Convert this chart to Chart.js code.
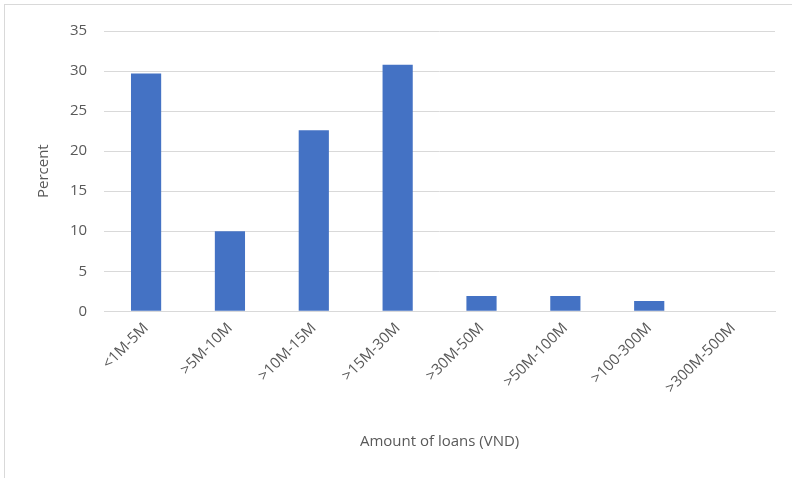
<!DOCTYPE html>
<html>
<head>
<meta charset="utf-8">
<script src="https://cdn.jsdelivr.net/npm/chart.js@4/dist/chart.umd.min.js"></script>
<style>
  html, body { margin: 0; padding: 0; background: #fff; }
  #wrap {
    position: absolute; left: 4px; top: 4px; width: 788px; height: 474px;
    border-top: 1px solid #d9d9d9; border-left: 1px solid #d9d9d9;
  }
  canvas { display: block; }
</style>
</head>
<body>
<div id="wrap"><canvas id="myChart" width="787" height="473"></canvas></div>
<script>
// loan size buckets and share of borrowers (%)
const categories = ['<1M-5M', '>5M-10M', '>10M-15M', '>15M-30M', '>30M-50M', '>50M-100M', '>100-300M', '>300M-500M'];
const percentValues = [29.7, 10.0, 22.6, 30.8, 1.9, 1.9, 1.3, 0];
const yTicks = [0, 5, 10, 15, 20, 25, 30, 35];

document.addEventListener("DOMContentLoaded", function () {
  if (typeof Chart === 'undefined') {
    console.error('Chart.js is not loaded.');
    return;
  }
  const ctx = document.getElementById('myChart').getContext('2d');
  const fontFamily = "'Open Sans', 'Liberation Sans', sans-serif";

  new Chart(ctx, {
    type: 'bar',
    data: {
      labels: categories,
      datasets: [{
        label: 'Percent',
        data: percentValues,
        backgroundColor: '#4472C4',
        borderWidth: 0,
        barPercentage: 0.36,
        categoryPercentage: 1
      }]
    },
    options: {
      responsive: false,
      animation: false,
      layout: { padding: { left: 26, right: 17, top: 10, bottom: 23 } },
      plugins: {
        legend: { display: false },
        tooltip: { enabled: false }
      },
      scales: {
        x: {
          grid: { display: false, drawTicks: false },
          border: { color: '#d9d9d9', width: 1 },
          ticks: {
            color: '#595959',
            font: { family: fontFamily, size: 15 },
            minRotation: 45,
            maxRotation: 45,
            padding: 8
          },
          title: {
            display: true,
            text: 'Amount of loans (VND)',
            color: '#595959',
            font: { family: fontFamily, size: 15 },
            padding: { top: 28 }
          }
        },
        y: {
          min: 0,
          max: 35,
          afterBuildTicks: function (axis) {
            axis.ticks = yTicks.map(v => ({ value: v }));
          },
          grid: { color: '#d9d9d9', lineWidth: 1, drawTicks: false },
          border: { display: false },
          ticks: {
            color: '#595959',
            font: { family: fontFamily, size: 15 },
            padding: 17
          },
          title: {
            display: true,
            text: 'Percent',
            color: '#595959',
            font: { family: fontFamily, size: 15 },
            padding: { bottom: 0 }
          }
        }
      }
    }
  });
});
</script>
</body>
</html>
